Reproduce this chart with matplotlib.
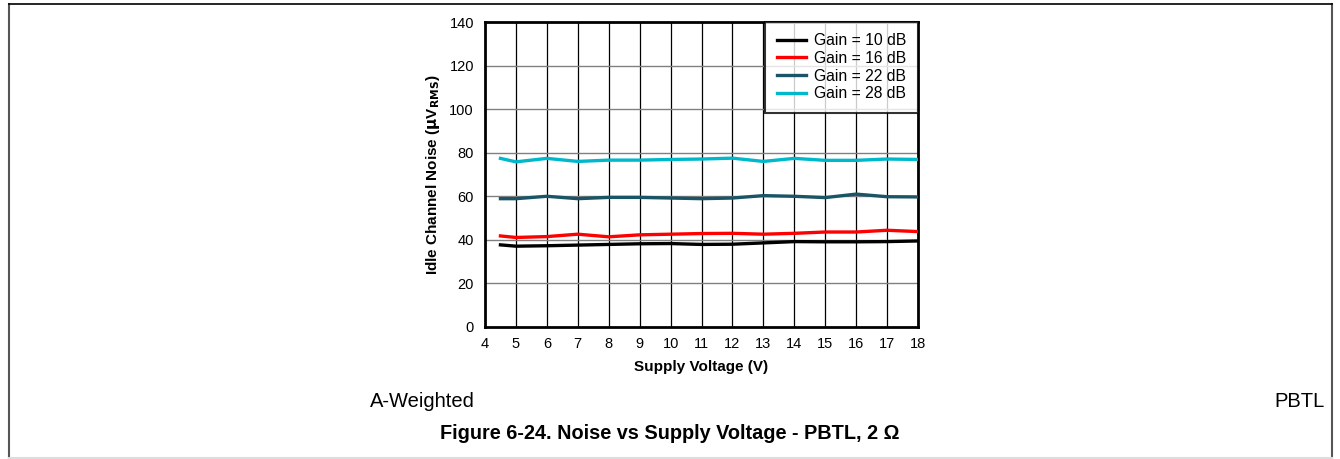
import matplotlib.pyplot as plt
from matplotlib.lines import Line2D

plt.rcParams['font.family'] = ['Liberation Sans', 'DejaVu Sans']

# supply voltage (V)
voltage = [4.5, 5, 6, 7, 8, 9, 10, 11, 12, 13, 14, 15, 16, 17, 18]

# idle channel noise (uVrms) per gain
gain_10 = [37.7, 37.1, 37.3, 37.6, 37.9, 38.2, 38.3, 37.9, 38.0, 38.6, 39.2, 39.1, 39.1, 39.2, 39.5]
gain_16 = [41.8, 41.1, 41.5, 42.6, 41.4, 42.3, 42.6, 42.9, 43.0, 42.6, 43.0, 43.6, 43.6, 44.4, 43.8]
gain_22 = [58.9, 58.9, 60.0, 58.9, 59.5, 59.5, 59.2, 58.9, 59.2, 60.3, 60.0, 59.4, 61.0, 59.8, 59.7]
gain_28 = [77.4, 75.8, 77.4, 76.0, 76.6, 76.6, 76.9, 77.1, 77.5, 76.0, 77.4, 76.5, 76.5, 77.1, 76.9]

series_labels = ['Gain = 10 dB', 'Gain = 16 dB', 'Gain = 22 dB', 'Gain = 28 dB']
series_colors = ['#000000', '#ff0000', '#1a5566', '#00b8cc']

x_ticks = list(range(4, 19))
y_ticks = list(range(0, 141, 20))

W, H = 1340, 459
fig = plt.figure(figsize=(13.4, 4.59), dpi=100)
ax = fig.add_axes([485 / W, 1 - 327 / H, 433 / W, 305 / H])

for x in x_ticks[1:-1]:
    ax.axvline(x, color='black', lw=0.9, zorder=1)
for y in y_ticks[1:-1]:
    ax.axhline(y, color='#808080', lw=1.0, zorder=1)

for vals, lab, col in zip([gain_10, gain_16, gain_22, gain_28], series_labels, series_colors):
    ax.plot(voltage, vals, color=col, lw=2.4, label=lab, zorder=3)

ax.set_xlim(4, 18)
ax.set_ylim(0, 140)
ax.set_xticks(x_ticks)
ax.set_yticks(y_ticks)
ax.tick_params(length=0, labelsize=10.5)
ax.tick_params(axis='x', pad=7)
ax.tick_params(axis='y', pad=8)
for s in ax.spines.values():
    s.set_linewidth(2)
    s.set_color('black')

ax.set_xlabel('Supply Voltage (V)', fontsize=11, fontweight='bold', labelpad=6.5)
ax.set_ylabel(r'Idle Channel Noise ($\mathbf{\mu}$V$_\mathbf{RMS}$)', fontsize=11, fontweight='bold', labelpad=5)

leg = ax.legend(loc='upper right', fontsize=11.3, frameon=True, fancybox=False,
                borderaxespad=0, handlelength=1.9, labelspacing=0.17,
                borderpad=0.72, handletextpad=0.5)
leg.get_frame().set_edgecolor('black')
leg.get_frame().set_linewidth(1.5)

fig.text(370 / W, 1 - 407 / H, 'A-Weighted', fontsize=14.5, ha='left', va='baseline')
fig.text(1325 / W, 1 - 407 / H, 'PBTL', fontsize=14.5, ha='right', va='baseline')
fig.text(670 / W, 1 - 439 / H, 'Figure 6-24. Noise vs Supply Voltage - PBTL, 2 Ω',
         fontsize=14.3, fontweight='bold', ha='center', va='baseline')

# outer frame
fig.add_artist(Line2D([8.5 / W, 8.5 / W], [0, 1 - 4 / H], color='#555555', lw=1.5, transform=fig.transFigure))
fig.add_artist(Line2D([1331.5 / W, 1331.5 / W], [0, 1 - 4 / H], color='#555555', lw=1.5, transform=fig.transFigure))
fig.add_artist(Line2D([8.5 / W, 1331.5 / W], [1 - 4 / H, 1 - 4 / H], color='black', lw=1.2, transform=fig.transFigure))
fig.add_artist(Line2D([8.5 / W, 1331.5 / W], [1.5 / H, 1.5 / H], color='#dddddd', lw=1.5, transform=fig.transFigure))

fig.savefig('out.png', dpi=100, facecolor='white')
